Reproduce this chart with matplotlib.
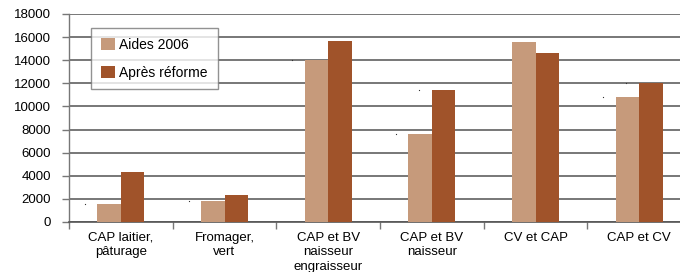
import matplotlib
matplotlib.use("Agg")
import matplotlib.pyplot as plt
import numpy as np

categories = ["CAP laitier,\npâturage", "Fromager,\nvert", "CAP et BV\nnaisseur\nengraisseur",
              "CAP et BV\nnaisseur", "CV et CAP", "CAP et CV"]
aides_2006 = [1600, 1800, 14000, 7600, 15550, 10800]
apres_reforme = [4300, 2300, 15700, 11400, 14600, 12000]
yticks = list(range(0, 18001, 2000))
# stray tiny marks left of bars in the original (categories with residual markers)
aides_mark_idx = [0, 1, 2, 3, 5]
apres_mark_idx = [3, 5]

plt.rcParams['font.family'] = ['Liberation Sans', 'DejaVu Sans']

fig = plt.figure(figsize=(6.8, 2.72), dpi=100)
ax = fig.add_axes([69/680, 50/272, 622/680, 208/272])

x = np.arange(len(categories)) + 0.5
w = 0.227
ax.bar(x - w/2, aides_2006, width=w, color='#C69A7B', label='Aides 2006', zorder=3)
ax.bar(x + w/2, apres_reforme, width=w, color='#A0532A', label='Après réforme', zorder=3)

# tiny residual marks
ax.plot(x[aides_mark_idx] - w - 0.12, np.array(aides_2006)[aides_mark_idx], ls='none',
        marker='s', markersize=0.8, markeredgewidth=0, color='#333333', zorder=4)
ax.plot(x[apres_mark_idx] - w + 0.1, np.array(apres_reforme)[apres_mark_idx], ls='none',
        marker='s', markersize=0.8, markeredgewidth=0, color='#333333', zorder=4)

ax.set_xlim(0, len(categories))
ax.set_ylim(0, 18000)
ax.set_yticks(yticks)
ax.set_yticklabels([str(v) for v in yticks], fontsize=9.5)
ax.yaxis.grid(True, color='#606060', linewidth=1.2, zorder=0)
ax.set_axisbelow(True)

ax.set_xticks(x)
ax.set_xticklabels(categories, fontsize=9.5, linespacing=1.3, va='top')
ax.tick_params(axis='x', which='major', length=0, pad=7)
ax.set_xticks(np.arange(len(categories) + 1), minor=True)
ax.tick_params(axis='x', which='minor', length=5, width=1, color='#777777', direction='out')
ax.tick_params(axis='y', length=5, width=1, color='#777777', direction='out', pad=8)

for s in ['top', 'right']:
    ax.spines[s].set_visible(False)
ax.spines['left'].set_color('#777777')
ax.spines['bottom'].set_color('#555555')
ax.spines['left'].set_linewidth(1)
ax.spines['bottom'].set_linewidth(1.2)

leg = ax.legend(loc='upper left', bbox_to_anchor=(22/622, 194/208), fontsize=10,
                frameon=True, fancybox=False, borderpad=0.7, labelspacing=1.0,
                handlelength=1.0, handleheight=1.0, handletextpad=0.35, borderaxespad=0)
leg.get_frame().set_edgecolor('#777777')
leg.get_frame().set_linewidth(1)
leg.set_zorder(5)

fig.savefig('out.png', dpi=100)
